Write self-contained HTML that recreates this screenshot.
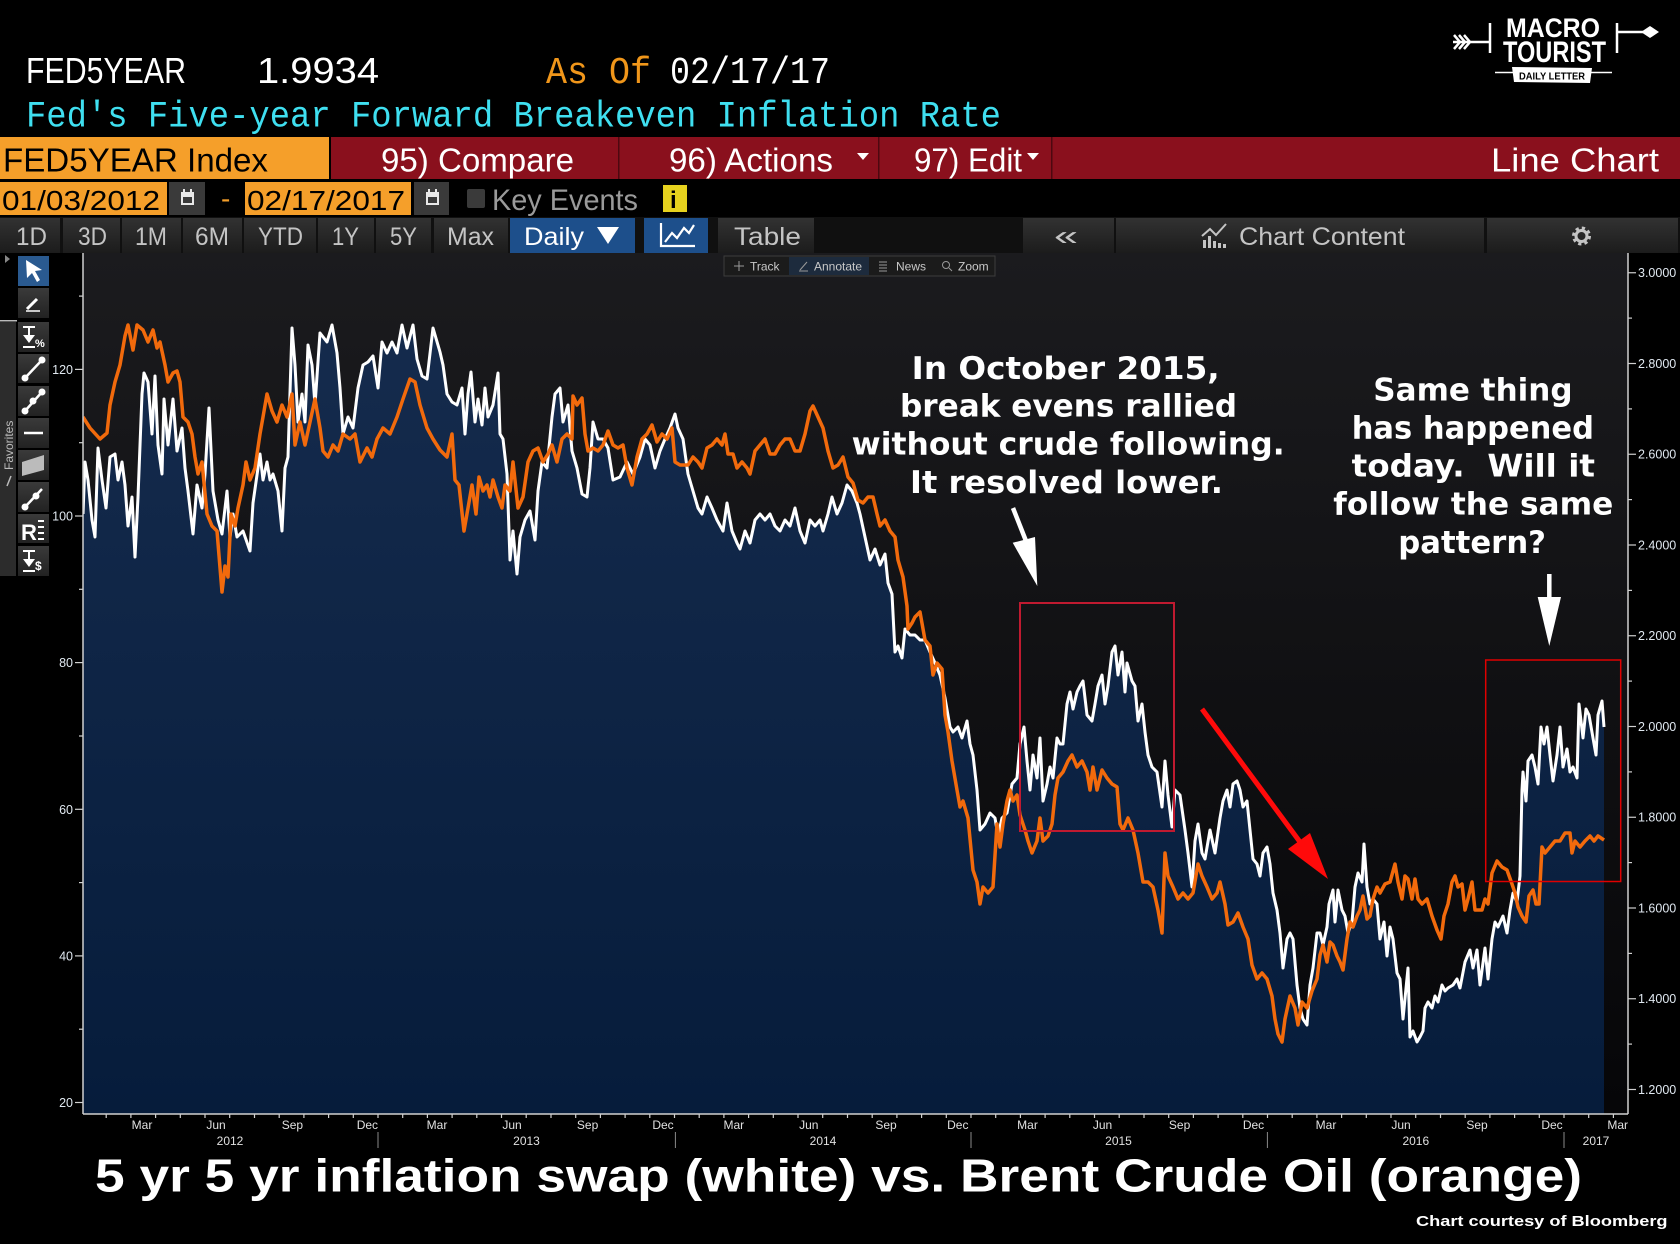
<!DOCTYPE html>
<html><head><meta charset="utf-8"><style>
html,body{margin:0;padding:0;background:#000;}
svg{display:block;}
.s{font-family:"Liberation Sans",sans-serif;}
.m{font-family:"Liberation Mono",monospace;}
.b{font-family:"DejaVu Sans","Liberation Sans",sans-serif;font-weight:bold;}
</style></head><body>
<svg width="1680" height="1244" viewBox="0 0 1680 1244" xmlns="http://www.w3.org/2000/svg">
<defs>
<linearGradient id="bg" x1="0" y1="253" x2="0" y2="1114" gradientUnits="userSpaceOnUse"><stop offset="0" stop-color="#1b1b1e"/><stop offset="1" stop-color="#060608"/></linearGradient>
<linearGradient id="nv" x1="0" y1="320" x2="0" y2="1114" gradientUnits="userSpaceOnUse"><stop offset="0" stop-color="#152b4d"/><stop offset="1" stop-color="#061c3b"/></linearGradient>
<linearGradient id="btn" x1="0" y1="0" x2="0" y2="1"><stop offset="0" stop-color="#323232"/><stop offset="1" stop-color="#1c1c1c"/></linearGradient>
<linearGradient id="tb" x1="0" y1="0" x2="0" y2="1"><stop offset="0" stop-color="#3a3a3a"/><stop offset="1" stop-color="#222"/></linearGradient>
<clipPath id="pc"><rect x="83" y="253" width="1545" height="861"/></clipPath>
</defs>
<rect width="1680" height="1244" fill="#000"/>

<!-- Header row 1 -->
<text class="s" x="26" y="83" font-size="36" fill="#fff" textLength="160" lengthAdjust="spacingAndGlyphs">FED5YEAR</text>
<text class="s" x="257" y="83" font-size="36" fill="#fff" textLength="122" lengthAdjust="spacingAndGlyphs">1.9934</text>
<text class="m" x="546" y="83" font-size="38" fill="#f0961a" textLength="105" lengthAdjust="spacingAndGlyphs">As Of</text>
<text class="m" x="670" y="83" font-size="38" fill="#fff" textLength="160" lengthAdjust="spacingAndGlyphs">02/17/17</text>
<!-- row 2 -->
<text class="m" x="26" y="126.5" font-size="37" fill="#3fdff0" textLength="975" lengthAdjust="spacingAndGlyphs">Fed's Five-year Forward Breakeven Inflation Rate</text>

<!-- Logo -->
<g stroke="#fff" fill="none" stroke-width="2.5">
<line x1="1453" y1="42" x2="1490" y2="42"/>
<polyline points="1454,35 1460,42 1454,49"/><polyline points="1459,35 1465,42 1459,49"/><polyline points="1464,35 1470,42 1464,49"/>
<line x1="1490" y1="23" x2="1490" y2="53"/>
<line x1="1617" y1="23" x2="1617" y2="53"/>
<line x1="1617" y1="32" x2="1643" y2="32"/>
<line x1="1495" y1="72.5" x2="1612" y2="72.5" stroke-width="1.5"/>
</g>
<polygon points="1641,32 1650,26 1659,32 1650,38" fill="#fff"/>
<text class="s" x="1506" y="37" font-size="27" font-weight="bold" fill="#fff" textLength="94" lengthAdjust="spacingAndGlyphs">MACRO</text>
<text class="s" x="1503" y="62" font-size="30" font-weight="bold" fill="#fff" textLength="103" lengthAdjust="spacingAndGlyphs">TOURIST</text>
<polygon points="1512,67 1592,68 1590,83 1514,82" fill="#fff"/>
<text class="s" x="1519" y="79.5" font-size="10" font-weight="bold" fill="#000" textLength="66" lengthAdjust="spacingAndGlyphs">DAILY LETTER</text>

<!-- Row 3 bar -->
<rect x="0" y="137" width="329" height="42" fill="#f59f2a"/>
<rect x="331" y="137" width="1349" height="42" fill="#8a101d"/>
<rect x="618" y="137" width="1.5" height="42" fill="#4d0810"/>
<rect x="878" y="137" width="1.5" height="42" fill="#4d0810"/>
<rect x="1051" y="137" width="1.5" height="42" fill="#4d0810"/>
<text class="s" x="3" y="171.5" font-size="33" fill="#000" textLength="265" lengthAdjust="spacingAndGlyphs">FED5YEAR Index</text>
<text class="s" x="381" y="171.5" font-size="33" fill="#fff" textLength="193" lengthAdjust="spacingAndGlyphs">95) Compare</text>
<text class="s" x="669" y="171.5" font-size="33" fill="#fff" textLength="164" lengthAdjust="spacingAndGlyphs">96) Actions</text>
<polygon points="857,153 869,153 863,160" fill="#fff"/>
<text class="s" x="914" y="171.5" font-size="33" fill="#fff" textLength="108" lengthAdjust="spacingAndGlyphs">97) Edit</text>
<polygon points="1027,153 1039,153 1033,160" fill="#fff"/>
<text class="s" x="1491" y="171.5" font-size="33" fill="#fff" textLength="168" lengthAdjust="spacingAndGlyphs">Line Chart</text>

<!-- Row 4 -->
<rect x="0" y="182" width="167" height="33" fill="#f59f2a"/>
<rect x="169" y="182" width="36" height="33" fill="#3a3a3a"/>
<rect x="245" y="182" width="166" height="33" fill="#f59f2a"/>
<rect x="414" y="182" width="35" height="33" fill="#3a3a3a"/>
<g fill="#e8e8e8"><rect x="181" y="192" width="13" height="13"/><rect x="426" y="192" width="13" height="13"/></g>
<g fill="#3a3a3a"><rect x="183" y="197" width="9" height="6"/><rect x="428" y="197" width="9" height="6"/></g>
<g fill="#e8e8e8"><rect x="183" y="189" width="2" height="4"/><rect x="190" y="189" width="2" height="4"/><rect x="428" y="189" width="2" height="4"/><rect x="435" y="189" width="2" height="4"/></g>
<text class="s" x="2" y="210" font-size="28" fill="#000" textLength="158" lengthAdjust="spacingAndGlyphs">01/03/2012</text>
<text class="s" x="221" y="208" font-size="28" fill="#f59f2a">-</text>
<text class="s" x="247" y="210" font-size="28" fill="#000" textLength="158" lengthAdjust="spacingAndGlyphs">02/17/2017</text>
<rect x="467" y="189" width="18" height="19" rx="2" fill="#3a3a3a"/>
<text class="s" x="492" y="210" font-size="30" fill="#9a9a9a" textLength="146" lengthAdjust="spacingAndGlyphs">Key Events</text>
<rect x="663" y="185" width="24" height="27" fill="#e6d21e"/>
<text class="s" x="670" y="208" font-size="24" font-weight="bold" fill="#000">i</text>

<!-- Row 5 buttons -->
<rect x="0" y="217" width="1680" height="36" fill="#101010"/>
<g fill="url(#btn)">
<rect x="0" y="218" width="60" height="35"/><rect x="63" y="218" width="57" height="35"/><rect x="122" y="218" width="59" height="35"/><rect x="183" y="218" width="59" height="35"/><rect x="244" y="218" width="72" height="35"/><rect x="318" y="218" width="56" height="35"/><rect x="376" y="218" width="55" height="35"/><rect x="434" y="218" width="74" height="35"/>
<rect x="718" y="218" width="96" height="35"/>
<rect x="1023" y="218" width="91" height="35"/><rect x="1116" y="218" width="368" height="35"/><rect x="1487" y="218" width="191" height="35"/>
</g>
<rect x="510" y="218" width="125" height="35" fill="#1d4f8b"/>
<rect x="644" y="218" width="64" height="35" fill="#1d4f8b"/>
<g class="s" font-size="25" fill="#c4c4c4">
<text x="16" y="245" textLength="31" lengthAdjust="spacingAndGlyphs">1D</text>
<text x="78" y="245" textLength="29" lengthAdjust="spacingAndGlyphs">3D</text>
<text x="135" y="245" textLength="32" lengthAdjust="spacingAndGlyphs">1M</text>
<text x="195" y="245" textLength="34" lengthAdjust="spacingAndGlyphs">6M</text>
<text x="258" y="245" textLength="45" lengthAdjust="spacingAndGlyphs">YTD</text>
<text x="332" y="245" textLength="27" lengthAdjust="spacingAndGlyphs">1Y</text>
<text x="390" y="245" textLength="27" lengthAdjust="spacingAndGlyphs">5Y</text>
<text x="447" y="245" textLength="47" lengthAdjust="spacingAndGlyphs">Max</text>
<text x="734" y="245" textLength="67" lengthAdjust="spacingAndGlyphs">Table</text>
<text x="1054" y="245" font-size="28" textLength="24" lengthAdjust="spacingAndGlyphs">«</text>
<text x="1239" y="245" textLength="166" lengthAdjust="spacingAndGlyphs">Chart Content</text>
</g>
<text class="s" x="524" y="245" font-size="25" fill="#fff" textLength="60" lengthAdjust="spacingAndGlyphs">Daily</text>
<polygon points="597,227 619,227 608,244" fill="#fff"/>
<polyline points="661,223 661,246 695,246" fill="none" stroke="#fff" stroke-width="2.2"/>
<polyline points="665,242 672,233 677,238 684,228 689,233 694,225" fill="none" stroke="#fff" stroke-width="2.2"/>
<g fill="#c4c4c4"><rect x="1203" y="240" width="3" height="8"/><rect x="1208" y="236" width="3" height="12"/><rect x="1213" y="241" width="3" height="7"/><rect x="1218" y="243" width="3" height="5"/><rect x="1223" y="244" width="3" height="4"/></g>
<polyline points="1202,236 1210,229 1216,235 1226,224" fill="none" stroke="#c4c4c4" stroke-width="2"/>
<circle cx="1581.5" cy="236" r="7.5" fill="none" stroke="#c4c4c4" stroke-width="4" stroke-dasharray="3 2.9"/>
<circle cx="1581.5" cy="236" r="5.5" fill="none" stroke="#c4c4c4" stroke-width="3"/>

<!-- Plot background -->
<rect x="83" y="253" width="1545" height="861" fill="url(#bg)"/>

<!-- Left toolbar -->
<polygon points="5,255 10,259 5,263" fill="#888"/>
<rect x="0" y="320" width="17" height="1.5" fill="#bbb"/>
<rect x="0" y="322" width="16" height="254" fill="#2c2c2c"/>
<text class="s" font-size="12" fill="#bbb" transform="translate(13,470) rotate(-90)">Favorites</text>
<line x1="7" y1="486" x2="11" y2="476" stroke="#bbb" stroke-width="1.5"/>
<rect x="18" y="256" width="31" height="30" fill="#2a5a90"/>
<g fill="url(#tb)">
<rect x="18" y="288" width="31" height="30"/><rect x="18" y="322" width="31" height="30"/><rect x="18" y="354" width="31" height="29"/><rect x="18" y="386" width="31" height="30"/><rect x="18" y="418" width="31" height="30"/><rect x="18" y="450" width="31" height="30"/><rect x="18" y="482" width="31" height="30"/><rect x="18" y="514" width="31" height="29"/><rect x="18" y="546" width="31" height="30"/>
</g>
<polygon points="26,260 42,270 35,271 40,280 37,282 32,273 27,278" fill="#fff"/>
<line x1="27" y1="309" x2="37" y2="299" stroke="#fff" stroke-width="3"/>
<line x1="26" y1="311" x2="40" y2="311" stroke="#fff" stroke-width="1.5"/>
<g fill="#fff"><rect x="23" y="326" width="12" height="2"/><rect x="28" y="326" width="2" height="10"/><polygon points="23,335 35,335 29,343"/><rect x="23" y="346" width="12" height="2"/></g>
<text class="s" x="35" y="347" font-size="11" font-weight="bold" fill="#fff">%</text>
<g stroke="#fff" stroke-width="2.5"><line x1="25" y1="378" x2="42" y2="360"/><line x1="25" y1="411" x2="42" y2="392"/><line x1="24" y1="433" x2="43" y2="433"/><line x1="25" y1="507" x2="42" y2="489"/></g>
<g fill="#fff"><circle cx="25" cy="378" r="3.5"/><circle cx="42" cy="360" r="3.5"/><circle cx="25" cy="411" r="3.5"/><circle cx="33" cy="401" r="3.5"/><circle cx="42" cy="392" r="3.5"/><circle cx="25" cy="507" r="3.5"/><circle cx="36" cy="496" r="3.5"/></g>
<polygon points="22,462 44,455 44,470 22,476" fill="#bbb"/>
<text class="s" x="21" y="540" font-size="22" font-weight="bold" fill="#fff">R</text>
<g fill="#fff"><rect x="38" y="520" width="6" height="2"/><rect x="38" y="526" width="6" height="2"/><rect x="38" y="532" width="6" height="2"/><rect x="38" y="538" width="6" height="2"/></g>
<g fill="#fff"><rect x="23" y="550" width="12" height="2"/><rect x="28" y="550" width="2" height="10"/><polygon points="23,559 35,559 29,567"/><rect x="23" y="570" width="12" height="2"/></g>
<text class="s" x="35" y="570" font-size="12" font-weight="bold" fill="#fff">$</text>

<!-- Series -->
<g clip-path="url(#pc)">
<path fill="url(#nv)" d="M83,514 L85,462 88,480 92,520 95,537 98,448 102,480 106,508 110,457 115,454 118,480 122,462 125,485 128,526 132,497 135,557 138,497 142,394 144,373 148,382 152,434 155,376 158,445 162,474 164,399 168,445 173,399 177,451 182,428 185,468 188,491 193,534 197,485 202,508 205,474 209,408 213,491 218,520 222,534 227,491 230,537 233,514 237,537 243,531 250,551 253,503 260,454 263,480 267,462 270,480 273,474 278,491 282,531 285,468 288,457 292,328 295,365 298,422 302,394 305,422 308,345 312,365 315,405 320,333 327,342 332,325 337,353 340,388 343,434 348,417 353,428 358,388 363,365 368,362 373,356 378,388 382,342 387,353 392,342 397,353 402,325 407,348 413,325 417,359 422,376 427,379 433,328 440,352 443,365 447,394 452,402 457,405 462,388 465,434 468,394 471,372 475,422 478,399 482,425 485,388 488,417 493,405 498,373 500,434 503,439 507,474 510,560 513,531 517,574 520,537 525,520 530,511 535,540 538,491 542,462 547,468 552,417 555,394 560,388 563,422 568,405 572,451 577,468 582,494 587,497 590,468 593,422 598,439 603,439 608,448 613,480 620,477 627,462 633,474 640,457 645,439 650,445 655,468 660,451 665,439 670,428 675,414 678,428 683,439 688,474 693,491 698,508 702,514 707,497 712,508 717,520 723,531 727,503 732,531 737,543 740,549 745,531 750,543 755,520 760,514 765,520 770,514 775,526 780,531 785,520 790,526 795,508 800,531 805,543 810,520 815,526 820,520 823,531 828,514 832,497 837,514 842,503 847,485 852,491 857,503 860,514 865,537 870,560 875,549 880,565 885,554 888,583 892,594 895,652 898,646 902,658 905,629 910,635 915,635 920,640 925,640 930,652 935,663 940,675 945,698 950,727 953,732 958,727 962,738 967,721 970,744 973,755 977,790 980,830 985,824 990,813 995,818 998,836 1002,818 1007,813 1012,784 1017,778 1020,744 1024,727 1027,761 1030,790 1033,755 1037,778 1040,738 1043,801 1047,784 1050,767 1053,778 1057,738 1060,744 1063,744 1067,704 1070,692 1073,709 1077,692 1080,686 1083,681 1087,715 1092,721 1095,704 1098,686 1102,675 1105,704 1108,686 1112,652 1115,646 1118,675 1122,652 1125,692 1127,663 1132,681 1135,686 1138,721 1142,704 1145,732 1148,755 1152,767 1157,772 1162,807 1165,761 1168,795 1172,827 1175,790 1180,795 1185,830 1188,853 1192,887 1195,841 1198,824 1202,853 1205,859 1210,830 1215,853 1220,818 1223,801 1227,790 1230,807 1233,784 1237,781 1240,790 1243,807 1247,801 1250,830 1253,859 1257,864 1260,876 1263,853 1267,847 1270,864 1273,893 1277,910 1280,933 1283,968 1287,939 1290,933 1293,939 1297,985 1300,1008 1303,1019 1307,1025 1310,985 1313,968 1317,933 1320,933 1323,945 1327,927 1329,904 1333,890 1335,922 1338,890 1342,910 1345,916 1348,933 1352,922 1355,887 1358,873 1362,882 1364,844 1367,887 1370,904 1373,899 1377,904 1380,939 1384,922 1387,956 1390,927 1393,939 1397,973 1400,979 1403,1019 1408,968 1410,1037 1413,1031 1417,1042 1420,1037 1423,1031 1425,1008 1428,1002 1432,1008 1435,996 1438,1002 1442,985 1445,991 1448,988 1453,985 1457,979 1460,988 1465,962 1470,950 1473,968 1477,950 1480,985 1485,948 1488,979 1492,939 1495,922 1498,927 1503,916 1507,933 1510,910 1513,893 1517,902 1520,876 1522,790 1523,772 1526,801 1528,761 1532,755 1535,767 1538,784 1541,727 1544,744 1547,727 1550,755 1553,781 1557,755 1560,727 1563,767 1567,749 1570,772 1573,767 1577,778 1579,704 1583,738 1586,709 1589,715 1593,738 1596,755 1598,715 1602,701 1604,727 L1604,1114 L83,1114 Z"/>
<polyline fill="none" stroke="#ffffff" stroke-width="3" stroke-linejoin="round" points="83,514 85,462 88,480 92,520 95,537 98,448 102,480 106,508 110,457 115,454 118,480 122,462 125,485 128,526 132,497 135,557 138,497 142,394 144,373 148,382 152,434 155,376 158,445 162,474 164,399 168,445 173,399 177,451 182,428 185,468 188,491 193,534 197,485 202,508 205,474 209,408 213,491 218,520 222,534 227,491 230,537 233,514 237,537 243,531 250,551 253,503 260,454 263,480 267,462 270,480 273,474 278,491 282,531 285,468 288,457 292,328 295,365 298,422 302,394 305,422 308,345 312,365 315,405 320,333 327,342 332,325 337,353 340,388 343,434 348,417 353,428 358,388 363,365 368,362 373,356 378,388 382,342 387,353 392,342 397,353 402,325 407,348 413,325 417,359 422,376 427,379 433,328 440,352 443,365 447,394 452,402 457,405 462,388 465,434 468,394 471,372 475,422 478,399 482,425 485,388 488,417 493,405 498,373 500,434 503,439 507,474 510,560 513,531 517,574 520,537 525,520 530,511 535,540 538,491 542,462 547,468 552,417 555,394 560,388 563,422 568,405 572,451 577,468 582,494 587,497 590,468 593,422 598,439 603,439 608,448 613,480 620,477 627,462 633,474 640,457 645,439 650,445 655,468 660,451 665,439 670,428 675,414 678,428 683,439 688,474 693,491 698,508 702,514 707,497 712,508 717,520 723,531 727,503 732,531 737,543 740,549 745,531 750,543 755,520 760,514 765,520 770,514 775,526 780,531 785,520 790,526 795,508 800,531 805,543 810,520 815,526 820,520 823,531 828,514 832,497 837,514 842,503 847,485 852,491 857,503 860,514 865,537 870,560 875,549 880,565 885,554 888,583 892,594 895,652 898,646 902,658 905,629 910,635 915,635 920,640 925,640 930,652 935,663 940,675 945,698 950,727 953,732 958,727 962,738 967,721 970,744 973,755 977,790 980,830 985,824 990,813 995,818 998,836 1002,818 1007,813 1012,784 1017,778 1020,744 1024,727 1027,761 1030,790 1033,755 1037,778 1040,738 1043,801 1047,784 1050,767 1053,778 1057,738 1060,744 1063,744 1067,704 1070,692 1073,709 1077,692 1080,686 1083,681 1087,715 1092,721 1095,704 1098,686 1102,675 1105,704 1108,686 1112,652 1115,646 1118,675 1122,652 1125,692 1127,663 1132,681 1135,686 1138,721 1142,704 1145,732 1148,755 1152,767 1157,772 1162,807 1165,761 1168,795 1172,827 1175,790 1180,795 1185,830 1188,853 1192,887 1195,841 1198,824 1202,853 1205,859 1210,830 1215,853 1220,818 1223,801 1227,790 1230,807 1233,784 1237,781 1240,790 1243,807 1247,801 1250,830 1253,859 1257,864 1260,876 1263,853 1267,847 1270,864 1273,893 1277,910 1280,933 1283,968 1287,939 1290,933 1293,939 1297,985 1300,1008 1303,1019 1307,1025 1310,985 1313,968 1317,933 1320,933 1323,945 1327,927 1329,904 1333,890 1335,922 1338,890 1342,910 1345,916 1348,933 1352,922 1355,887 1358,873 1362,882 1364,844 1367,887 1370,904 1373,899 1377,904 1380,939 1384,922 1387,956 1390,927 1393,939 1397,973 1400,979 1403,1019 1408,968 1410,1037 1413,1031 1417,1042 1420,1037 1423,1031 1425,1008 1428,1002 1432,1008 1435,996 1438,1002 1442,985 1445,991 1448,988 1453,985 1457,979 1460,988 1465,962 1470,950 1473,968 1477,950 1480,985 1485,948 1488,979 1492,939 1495,922 1498,927 1503,916 1507,933 1510,910 1513,893 1517,902 1520,876 1522,790 1523,772 1526,801 1528,761 1532,755 1535,767 1538,784 1541,727 1544,744 1547,727 1550,755 1553,781 1557,755 1560,727 1563,767 1567,749 1570,772 1573,767 1577,778 1579,704 1583,738 1586,709 1589,715 1593,738 1596,755 1598,715 1602,701 1604,727"/>
<polyline fill="none" stroke="#f26a0c" stroke-width="3.5" stroke-linejoin="round" points="83,417 90,428 100,439 107,433 110,405 115,382 120,365 125,336 128,325 133,350 137,325 143,330 148,342 153,330 157,348 160,342 165,365 168,382 173,373 177,371 180,382 183,417 188,422 192,434 195,457 198,474 202,462 207,514 212,526 217,531 222,592 225,566 228,577 231,514 235,526 238,508 243,485 246,462 250,480 255,468 260,434 263,417 267,394 272,411 277,422 282,405 287,417 292,394 295,445 300,422 305,445 310,422 315,399 320,428 323,451 328,457 333,445 338,451 343,434 350,439 355,434 360,462 367,448 372,457 377,439 383,428 390,434 397,417 403,399 410,379 415,382 420,405 427,428 433,439 440,450 447,457 452,434 455,480 459,485 464,531 468,508 472,485 476,514 479,477 483,491 487,485 490,497 493,480 498,497 502,508 505,485 510,491 513,462 518,508 523,497 528,462 533,451 538,448 543,462 548,454 552,445 557,462 562,439 567,434 572,439 573,396 577,405 582,398 585,434 588,451 593,448 598,451 603,445 608,431 613,445 618,448 623,445 627,468 632,485 637,457 642,439 647,434 652,425 657,442 662,434 667,439 672,428 675,462 680,465 688,465 693,457 698,462 702,468 707,448 712,445 717,439 722,445 725,434 728,454 733,454 737,468 742,462 747,468 750,474 755,451 760,445 765,439 770,454 775,454 780,445 785,439 790,439 795,451 800,451 805,434 810,411 813,406 818,417 823,428 828,451 833,468 838,465 843,457 848,477 853,483 858,500 863,503 868,497 873,497 877,514 880,526 885,520 890,531 895,537 898,560 903,577 907,606 908,629 912,623 915,617 920,612 925,640 930,646 933,675 937,663 942,669 945,715 948,732 952,761 957,790 960,807 963,801 968,818 973,870 977,882 980,904 983,887 988,893 993,887 997,824 1000,847 1003,824 1007,801 1010,790 1013,801 1017,795 1020,815 1025,830 1028,841 1032,853 1037,841 1040,818 1043,841 1048,836 1052,824 1055,795 1058,778 1063,772 1068,761 1072,755 1077,767 1082,761 1087,772 1090,790 1093,767 1097,790 1102,770 1107,778 1112,784 1117,787 1120,824 1123,830 1128,818 1133,830 1138,853 1143,882 1148,882 1153,887 1158,910 1162,933 1165,853 1168,876 1173,887 1178,899 1183,893 1188,899 1193,893 1198,864 1202,876 1207,887 1212,899 1217,893 1220,882 1225,904 1228,925 1233,922 1238,913 1243,927 1248,939 1252,965 1257,979 1262,973 1267,979 1272,996 1275,1019 1278,1034 1282,1042 1285,1019 1290,996 1295,1008 1298,1025 1302,1002 1307,1008 1312,991 1317,979 1320,955 1323,945 1327,962 1330,942 1333,945 1337,956 1340,962 1343,970 1347,939 1350,922 1353,927 1357,916 1360,910 1363,896 1367,919 1370,916 1373,899 1377,887 1380,893 1385,884 1390,882 1395,864 1398,882 1402,899 1405,876 1408,879 1412,899 1415,879 1418,899 1422,904 1427,899 1432,916 1437,930 1441,939 1444,916 1448,904 1452,882 1455,876 1458,887 1462,884 1465,910 1468,899 1472,882 1475,910 1478,910 1482,910 1485,899 1488,904 1492,873 1497,861 1502,867 1507,870 1512,884 1515,893 1518,907 1522,916 1526,922 1529,896 1533,890 1536,904 1539,904 1542,847 1545,853 1550,847 1555,841 1560,841 1565,833 1570,833 1572,853 1575,841 1580,847 1585,841 1590,836 1594,841 1598,836 1604,840"/>
</g>

<!-- Track bar -->
<rect x="724" y="256" width="271" height="20" fill="#1b1b1b" stroke="#3c3c3c" stroke-width="1"/>
<rect x="789" y="257" width="80" height="18" fill="#1d2b3d"/>
<g class="s" font-size="12" fill="#c8c8c8">
<text x="750" y="270.5">Track</text><text x="814" y="270.5">Annotate</text><text x="896" y="270.5">News</text><text x="958" y="270.5">Zoom</text>
</g>
<g stroke="#999" stroke-width="1" fill="none">
<line x1="734" y1="266" x2="744" y2="266"/><line x1="739" y1="261" x2="739" y2="271"/>
<line x1="800" y1="270" x2="807" y2="262"/><line x1="799" y1="271" x2="808" y2="271"/>
<line x1="879" y1="262" x2="887" y2="262"/><line x1="879" y1="265" x2="887" y2="265"/><line x1="879" y1="268" x2="887" y2="268"/><line x1="879" y1="271" x2="887" y2="271"/>
<circle cx="946" cy="265" r="3.5"/><line x1="949" y1="268" x2="952" y2="271"/>
</g>

<!-- Axes -->
<g stroke="#d0d0d0" stroke-width="1.5" fill="none">
<line x1="83" y1="253" x2="83" y2="1114"/>
<line x1="1628" y1="253" x2="1628" y2="1114"/>
<line x1="83" y1="1114" x2="1628" y2="1114"/>
</g>
<!-- Left ticks -->
<g stroke="#d0d0d0" stroke-width="1.2">
<line x1="75" y1="1102.5" x2="83" y2="1102.5"/><line x1="75" y1="955.9" x2="83" y2="955.9"/><line x1="75" y1="809.3" x2="83" y2="809.3"/><line x1="75" y1="662.6" x2="83" y2="662.6"/><line x1="75" y1="516" x2="83" y2="516"/><line x1="75" y1="369.4" x2="83" y2="369.4"/>
<line x1="79" y1="1029.2" x2="83" y2="1029.2"/><line x1="79" y1="882.6" x2="83" y2="882.6"/><line x1="79" y1="736" x2="83" y2="736"/><line x1="79" y1="589.3" x2="83" y2="589.3"/><line x1="79" y1="442.7" x2="83" y2="442.7"/><line x1="79" y1="296.1" x2="83" y2="296.1"/>
</g>
<g class="s" font-size="12.5" fill="#e0e8f0" text-anchor="end">
<text x="73" y="1107">20</text><text x="73" y="960.4">40</text><text x="73" y="813.8">60</text><text x="73" y="667.1">80</text><text x="73" y="520.5">100</text><text x="73" y="373.9">120</text>
</g>
<!-- Right ticks -->
<g stroke="#d0d0d0" stroke-width="1.2">
<line x1="1628" y1="272.75" x2="1636" y2="272.75"/><line x1="1628" y1="363.5" x2="1636" y2="363.5"/><line x1="1628" y1="454.25" x2="1636" y2="454.25"/><line x1="1628" y1="545" x2="1636" y2="545"/><line x1="1628" y1="635.75" x2="1636" y2="635.75"/><line x1="1628" y1="726.5" x2="1636" y2="726.5"/><line x1="1628" y1="817.25" x2="1636" y2="817.25"/><line x1="1628" y1="908" x2="1636" y2="908"/><line x1="1628" y1="998.75" x2="1636" y2="998.75"/><line x1="1628" y1="1089.5" x2="1636" y2="1089.5"/>
<line x1="1628" y1="318.1" x2="1632" y2="318.1"/><line x1="1628" y1="408.9" x2="1632" y2="408.9"/><line x1="1628" y1="499.6" x2="1632" y2="499.6"/><line x1="1628" y1="590.4" x2="1632" y2="590.4"/><line x1="1628" y1="681.1" x2="1632" y2="681.1"/><line x1="1628" y1="771.9" x2="1632" y2="771.9"/><line x1="1628" y1="862.6" x2="1632" y2="862.6"/><line x1="1628" y1="953.4" x2="1632" y2="953.4"/><line x1="1628" y1="1044.1" x2="1632" y2="1044.1"/>
</g>
<g class="s" font-size="12.5" fill="#e0e8f0">
<text x="1638" y="277.2">3.0000</text><text x="1638" y="368">2.8000</text><text x="1638" y="458.7">2.6000</text><text x="1638" y="549.5">2.4000</text><text x="1638" y="640.2">2.2000</text><text x="1638" y="731">2.0000</text><text x="1638" y="821.7">1.8000</text><text x="1638" y="912.5">1.6000</text><text x="1638" y="1003.2">1.4000</text><text x="1638" y="1094">1.2000</text>
</g>
<!-- Bottom ticks -->
<path stroke="#d0d0d0" stroke-width="1.2" d="M106.2,1114v4M130.9,1114v4M155.6,1114v4M180.3,1114v4M205,1114v4M229.7,1114v4M254.5,1114v4M279.2,1114v4M303.9,1114v4M328.6,1114v4M353.3,1114v4M378,1114v4M402.7,1114v4M427.4,1114v4M452.1,1114v4M476.8,1114v4M501.5,1114v4M526.2,1114v4M551,1114v4M575.7,1114v4M600.4,1114v4M625.1,1114v4M649.8,1114v4M674.5,1114v4M699.2,1114v4M723.9,1114v4M748.6,1114v4M773.3,1114v4M798,1114v4M822.7,1114v4M847.5,1114v4M872.2,1114v4M896.9,1114v4M921.6,1114v4M946.3,1114v4M971,1114v4M995.7,1114v4M1020.4,1114v4M1045.1,1114v4M1069.8,1114v4M1094.5,1114v4M1119.2,1114v4M1144,1114v4M1168.7,1114v4M1193.4,1114v4M1218.1,1114v4M1242.8,1114v4M1267.5,1114v4M1292.2,1114v4M1316.9,1114v4M1341.6,1114v4M1366.3,1114v4M1391,1114v4M1415.7,1114v4M1440.5,1114v4M1465.2,1114v4M1489.9,1114v4M1514.6,1114v4M1539.3,1114v4M1564,1114v4M1588.7,1114v4M1613.4,1114v4"/>
<path stroke="#8a8a8a" stroke-width="1" d="M378,1132v16M675.4,1132v16M971,1132v16M1267.4,1132v16M1564,1132v16"/>
<g class="s" font-size="12" fill="#e0e0e0" text-anchor="middle">
<text x="142" y="1129">Mar</text><text x="216" y="1129">Jun</text><text x="292.4" y="1129">Sep</text><text x="367.4" y="1129">Dec</text>
<text x="437" y="1129">Mar</text><text x="512" y="1129">Jun</text><text x="587.6" y="1129">Sep</text><text x="663" y="1129">Dec</text>
<text x="733.8" y="1129">Mar</text><text x="808.8" y="1129">Jun</text><text x="886" y="1129">Sep</text><text x="957.8" y="1129">Dec</text>
<text x="1027.5" y="1129">Mar</text><text x="1102.5" y="1129">Jun</text><text x="1179.6" y="1129">Sep</text><text x="1253.5" y="1129">Dec</text>
<text x="1326" y="1129">Mar</text><text x="1401" y="1129">Jun</text><text x="1477" y="1129">Sep</text><text x="1552" y="1129">Dec</text><text x="1617.7" y="1129">Mar</text>
<text x="230" y="1145">2012</text><text x="526.5" y="1145">2013</text><text x="823" y="1145">2014</text><text x="1118.5" y="1145">2015</text><text x="1415.8" y="1145">2016</text><text x="1596" y="1145">2017</text>
</g>

<!-- Annotations -->
<rect x="1020" y="603" width="154" height="228" fill="none" stroke="#c01a30" stroke-width="2"/>
<rect x="1485.7" y="660" width="135" height="221.5" fill="none" stroke="#e00000" stroke-width="1.5"/>
<line x1="1202" y1="709" x2="1300" y2="842" stroke="#ff0a0a" stroke-width="5"/>
<polygon points="1288,849 1310,833 1328,879" fill="#ff0a0a"/>
<line x1="1013" y1="508" x2="1026" y2="541" stroke="#fff" stroke-width="4.5"/>
<polygon points="1012.7,542.8 1035,537 1037.3,586" fill="#fff"/>
<line x1="1549.3" y1="574" x2="1549.3" y2="600" stroke="#fff" stroke-width="4.5"/>
<polygon points="1537.7,597 1561,597 1549.3,646" fill="#fff"/>

<g class="b" font-size="31" fill="#fff">
<text x="911.7" y="378.8" textLength="308" lengthAdjust="spacingAndGlyphs">In October 2015,</text>
<text x="900" y="416.5" textLength="337" lengthAdjust="spacingAndGlyphs">break evens rallied</text>
<text x="851.7" y="454.5" textLength="433" lengthAdjust="spacingAndGlyphs">without crude following.</text>
<text x="910" y="492.8" textLength="313" lengthAdjust="spacingAndGlyphs">It resolved lower.</text>
<text x="1373.3" y="400.4" textLength="199.3" lengthAdjust="spacingAndGlyphs">Same thing</text>
<text x="1351.7" y="438.5" textLength="242.3" lengthAdjust="spacingAndGlyphs">has happened</text>
<text x="1351.7" y="476.5" textLength="243.3" lengthAdjust="spacingAndGlyphs">today.&#160; Will it</text>
<text x="1333.3" y="514.5" textLength="280" lengthAdjust="spacingAndGlyphs">follow the same</text>
<text x="1398.3" y="553" textLength="147.7" lengthAdjust="spacingAndGlyphs">pattern?</text>
</g>

<!-- Caption -->
<text class="s" x="95" y="1191.7" font-size="46.5" font-weight="bold" fill="#fff" textLength="1487" lengthAdjust="spacingAndGlyphs">5 yr 5 yr inflation swap (white) vs. Brent Crude Oil (orange)</text>
<text class="s" x="1416" y="1226" font-size="14.5" font-weight="bold" fill="#fff" textLength="251.5" lengthAdjust="spacingAndGlyphs">Chart courtesy of Bloomberg</text>
</svg>
</body></html>
